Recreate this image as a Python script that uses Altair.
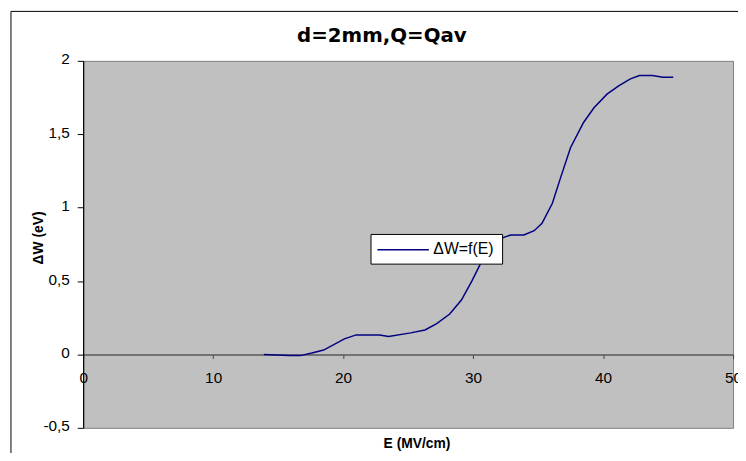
import altair as alt
import pandas as pd

E = [13.9, 15.9, 16.7, 17.6, 18.5, 20.1, 21.0, 22.8, 23.5, 25.2, 26.3, 27.2,
     28.2, 29.1, 29.9, 30.6, 31.4, 32.3, 32.9, 33.9, 34.7, 35.3, 36.1, 36.7,
     37.5, 38.5, 39.3, 40.3, 41.2, 42.1, 42.8, 43.8, 44.6, 45.4]
W = [0.0, -0.008, -0.008, 0.01, 0.03, 0.106, 0.133, 0.133, 0.122, 0.147, 0.167, 0.21,
     0.275, 0.371, 0.5, 0.623, 0.73, 0.796, 0.814, 0.814, 0.843, 0.893, 1.03, 1.196,
     1.41, 1.58, 1.68, 1.773, 1.83, 1.877, 1.90, 1.90, 1.888, 1.888]
SERIES = "ΔW=f(E)"
X_TICKS = [0, 10, 20, 30, 40, 50]
Y_TICKS = [-0.5, 0, 0.5, 1, 1.5, 2]
TITLE = "d=2mm,Q=Qav"
X_TITLE = "E (MV/cm)"
Y_TITLE = "ΔW (eV)"
LINE_COLOR = "#000080"

df = pd.DataFrame({"E": E, "W": W, "s": [SERIES] * len(E)})
dummy = pd.DataFrame({"d": [0]})
title_df = pd.DataFrame({"t": [TITLE]})
legend_df = pd.DataFrame({"t": [SERIES]})

FONT = "Liberation Sans"

line = alt.Chart(df).mark_line(strokeWidth=1.5).encode(
    x=alt.X("E:Q",
            scale=alt.Scale(domain=[0, 50], nice=False, zero=False),
            axis=alt.Axis(values=X_TICKS, offset=-74.2, title=X_TITLE,
                          titleX=337, titleY=94, titleBaseline="alphabetic",
                          titleFont=FONT, titleFontSize=14, titleFontWeight="bold",
                          titleColor="black",
                          labelFont=FONT, labelFontSize=15.5, labelColor="black",
                          labelPadding=12.5, labelOverlap=False, labelFlush=False,
                          labelBound=False,
                          tickSize=4, tickColor="#404040", tickWidth=1,
                          domainColor="#5a5a5a", domainWidth=1.5, grid=False)),
    y=alt.Y("W:Q",
            scale=alt.Scale(domain=[-0.5, 2], nice=False, zero=False),
            axis=alt.Axis(values=Y_TICKS, title=Y_TITLE,
                          labelExpr="replace(toString(datum.value), '.', ',')",
                          titleX=-41, titleY=178.5, titleBaseline="alphabetic",
                          titleAlign="center", titleAngle=-90,
                          titleFont=FONT, titleFontSize=14, titleFontWeight="bold",
                          titleColor="black",
                          labelFont=FONT, labelFontSize=15.5, labelColor="black",
                          labelPadding=8, labelOffset=-2, labelOverlap=False,
                          labelFlush=False,
                          tickSize=6, tickColor="black", tickWidth=1,
                          domainColor="black", domainWidth=1.2, grid=False)),
    color=alt.Color("s:N", scale=alt.Scale(range=[LINE_COLOR]), legend=None),
)

top_border = alt.Chart(dummy).mark_rule(color="black", strokeWidth=1).encode(
    x=alt.value(-73), x2=alt.value(720), y=alt.value(-50))
left_border = alt.Chart(dummy).mark_rule(color="black", strokeWidth=1).encode(
    x=alt.value(-73), y=alt.value(-50), y2=alt.value(420))

title = alt.Chart(title_df).mark_text(
    font="DejaVu Sans", fontSize=20, fontWeight="bold", color="black",
    align="center", baseline="alphabetic").encode(
    text="t:N", x=alt.value(302), y=alt.value(-19))

legend_box = alt.Chart(dummy).mark_rect(fill="white", stroke="black", strokeWidth=1).encode(
    x=alt.value(291), x2=alt.value(424), y=alt.value(175.5), y2=alt.value(205.5))
legend_line = alt.Chart(dummy).mark_rule(color=LINE_COLOR, strokeWidth=1.5).encode(
    x=alt.value(297.5), x2=alt.value(349.5), y=alt.value(191))
legend_text = alt.Chart(legend_df).mark_text(
    font=FONT, fontSize=16, color="black", align="left", baseline="middle").encode(
    text="t:N", x=alt.value(354), y=alt.value(190.5))

chart = alt.layer(top_border, left_border, title, line,
                  legend_box, legend_line, legend_text).properties(
    width=657, height=371,
    autosize=alt.AutoSizeParams(type="none"),
    padding={"left": 76, "top": 51, "right": 5, "bottom": 23},
    background="white",
).configure_view(fill="#C0C0C0", stroke="#808080", strokeWidth=1)

chart.save("out.html", embed_options={"renderer": "svg", "actions": False})
